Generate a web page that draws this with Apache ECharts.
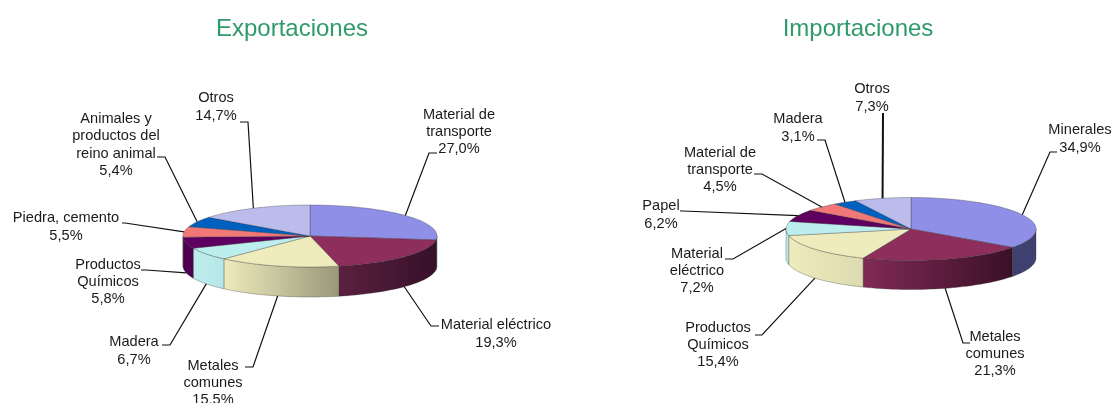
<!DOCTYPE html>
<html>
<head>
<meta charset="utf-8">
<script src="https://cdn.jsdelivr.net/npm/echarts@6/dist/echarts.min.js"></script>
<style>html,body{margin:0;padding:0;background:#fff}#pic{width:1113px;height:403px}</style>
</head>
<body>
<div id="pic"></div>
<script>
// data
var expCategories = ['Material de\ntransporte','Material eléctrico','Metales\ncomunes','Madera','Productos\nQuímicos','Piedra, cemento','Animales y\nproductos del\nreino animal','Otros'];
var expValues = [27.0,19.3,15.5,6.7,5.8,5.5,5.4,14.7];
var impCategories = ['Minerales','Metales\ncomunes','Productos\nQuímicos','Material\neléctrico','Papel','Material de\ntransporte','Madera','Otros'];
var impValues = [34.9,21.3,15.4,7.2,6.2,4.5,3.1,7.3];

// styles
var topColors = ['#8f8fe8','#8e2e5c','#eeecbc','#bdeeee','#5f0060','#f27878','#0060c0','#bcbcec'];
var expWalls = [['#404070','#404070'],['#5c2040','#36102a'],['#eeecbc','#98987a'],['#bdeeee','#b6e6e6'],['#4d0050','#4d0050'],['#a05050','#a05050'],['#004080','#004080'],['#8080a0','#8080a0']];
var impWalls = [['#404070','#404070'],['#802a56','#3a1028'],['#eeecbc','#dcdab0'],['#bdeeee','#b6e6e6'],['#4d0050','#4d0050'],['#a05050','#a05050'],['#004080','#004080'],['#8080a0','#8080a0']];

// layout: label centre [x,y], leader bend [x,y], leader end [x,y]
var expLabels = [[459,132],[496,334],[213,383],[134,351],[108,282],[66,227],[116,145],[216,107]];
var expBends = [[429,153],[431,326],[253,367],[170,345],[146,270],[125,223],[165,157],[248,122]];
var expEnds = [[437,153],[439,326],[245,367],[162,345],[141,270],[122,223],[157,157],[240,122]];
var impLabels = [[1080,139],[995,354],[718,345],[697,271],[661,215],[720,170],[798,128],[872,98]];
var impBends = [[1050,152],[963,343],[762,335],[733,259],[683,211],[762,174],[825,140],[883,113]];
var impEnds = [[1057,152],[970,343],[755,335],[725,259],[680,211],[754,174],[817,140],[883,113]];

var expPie = {cx:310, cy:236, rx:127, ry:31, depth:30};
var impPie = {cx:911, cy:229, rx:125, ry:31.5, depth:29};

function rimPoint(pie, deg, down) {
  var a = deg * Math.PI / 180;
  return [pie.cx + pie.rx * Math.sin(a), pie.cy - pie.ry * Math.cos(a) + (down || 0)];
}

function arcPoints(pie, from, to, down) {
  var pts = [];
  var n = Math.max(2, Math.ceil(Math.abs(to - from) / 2));
  for (var i = 0; i <= n; i++) {
    pts.push(rimPoint(pie, from + (to - from) * i / n, down));
  }
  return pts;
}

function pieSeries(pie, categories, values, walls, labels, bends, ends) {
  var total = 0, starts = [];
  for (var i = 0; i < values.length; i++) {
    starts.push(total);
    total += values[i];
  }
  return {
    type: 'custom',
    coordinateSystem: 'none',
    animation: false,
    silent: true,
    data: values,
    renderItem: function (params, api) {
      var idx = params.dataIndex;
      var from = starts[idx] / total * 360;
      var to = (starts[idx] + values[idx]) / total * 360;
      var mid = (from + to) / 2;
      var kids = [];
      var edge = {stroke: 'rgba(50,50,50,0.55)', lineWidth: 0.6};

      // outer wall, only the front half of the rim shows
      var wFrom = Math.max(from, 90), wTo = Math.min(to, 270);
      if (wTo > wFrom) {
        var pts = arcPoints(pie, wFrom, wTo, 0).concat(arcPoints(pie, wTo, wFrom, pie.depth));
        kids.push({
          type: 'polygon',
          shape: {points: pts},
          style: {
            fill: new echarts.graphic.LinearGradient(0, 0, 1, 0, [
              {offset: 0, color: walls[idx][0]},
              {offset: 1, color: walls[idx][1]}
            ]),
            stroke: edge.stroke, lineWidth: edge.lineWidth
          }
        });
      }
      // top face
      kids.push({
        type: 'polygon',
        shape: {points: [[pie.cx, pie.cy]].concat(arcPoints(pie, from, to, 0))},
        style: {fill: topColors[idx], stroke: edge.stroke, lineWidth: edge.lineWidth}
      });
      // leader
      var front = mid > 90 && mid < 270;
      var start = rimPoint(pie, mid, front ? pie.depth : 0);
      kids.push({
        type: 'polyline',
        shape: {points: [start, bends[idx], ends[idx]]},
        style: {fill: null, stroke: '#111', lineWidth: categories[idx] === 'Otros' && pie === impPie ? 2 : 1.2}
      });
      // label
      kids.push({
        type: 'text',
        style: {
          x: labels[idx][0], y: labels[idx][1],
          text: categories[idx] + '\n' + values[idx].toFixed(1).replace('.', ',') + '%',
          align: 'center', verticalAlign: 'middle',
          font: '14.6px "Liberation Sans", Arial, sans-serif',
          lineHeight: 17.3, fill: '#1a1a1a'
        }
      });
      return {type: 'group', children: kids};
    }
  };
}

var chart = echarts.init(document.getElementById('pic'), null, {renderer: 'canvas'});
var titleStyle = {color: '#2f9a6c', fontSize: 24, fontWeight: 'normal', fontFamily: '"Liberation Sans", Arial, sans-serif'};
chart.setOption({
  backgroundColor: '#fff',
  title: [
    {text: 'Exportaciones', left: 292, top: 17, padding: 0, textAlign: 'center', textStyle: titleStyle},
    {text: 'Importaciones', left: 858, top: 17, padding: 0, textAlign: 'center', textStyle: titleStyle}
  ],
  series: [
    pieSeries(expPie, expCategories, expValues, expWalls, expLabels, expBends, expEnds),
    pieSeries(impPie, impCategories, impValues, impWalls, impLabels, impBends, impEnds)
  ]
});
</script>
</body>
</html>
